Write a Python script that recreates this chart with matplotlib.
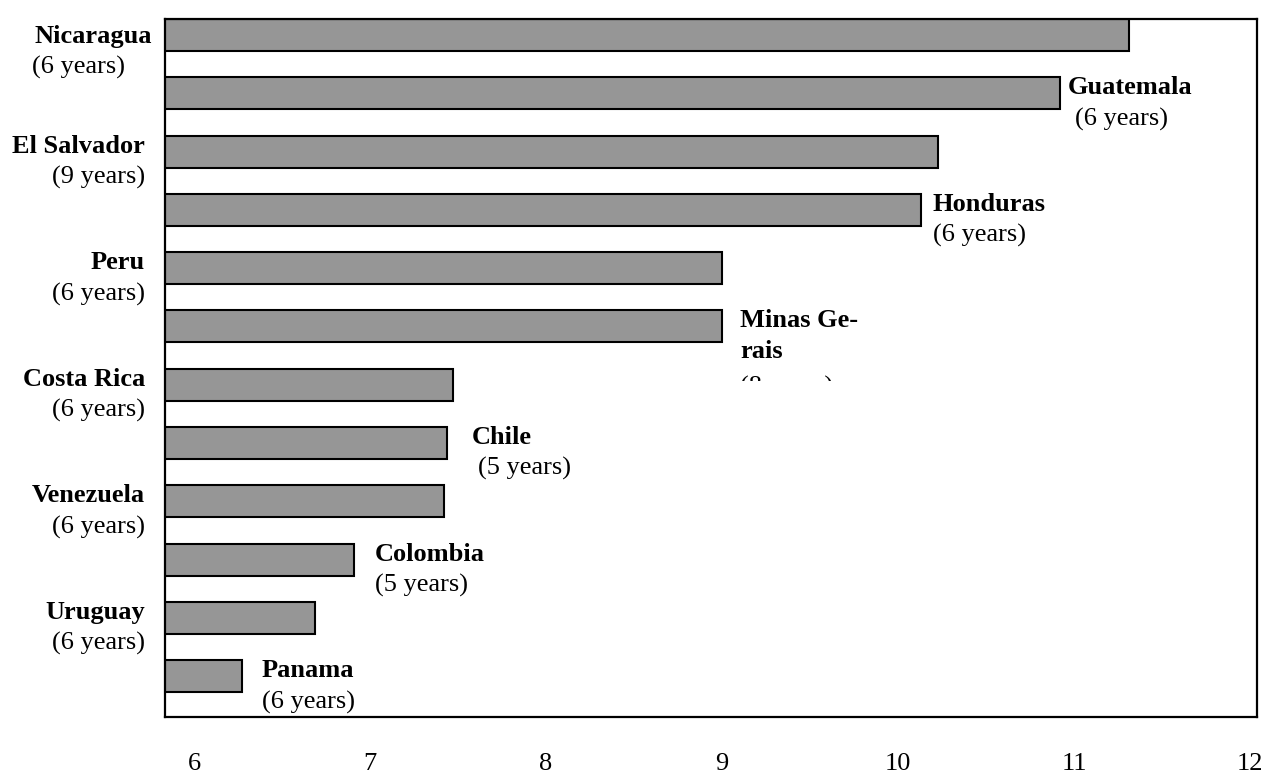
import matplotlib
matplotlib.use("Agg")
import matplotlib.pyplot as plt
from matplotlib.transforms import Bbox, TransformedBbox

countries = ["Nicaragua", "Guatemala", "El Salvador", "Honduras", "Peru",
             "Minas Gerais", "Costa Rica", "Chile", "Venezuela", "Colombia",
             "Uruguay", "Panama"]
values = [11.31, 10.92, 10.23, 10.13, 9.00, 9.00, 7.47, 7.44, 7.42, 6.91, 6.69, 6.27]
years = [6, 6, 9, 6, 6, 8, 6, 5, 6, 5, 6, 6]
x_ticks = [6, 7, 8, 9, 10, 11, 12]

# how each name is broken into lines in the picture
display_names = {"Minas Gerais": "Minas Ge-\nrais"}

plt.rcParams["font.family"] = ["Liberation Serif", "DejaVu Serif"]

fig = plt.figure(figsize=(12.7, 7.78), dpi=100)
ax = fig.add_axes([165 / 1270, 61 / 778, 1092 / 1270, 698 / 778])

ypos = list(range(len(countries)))
ax.barh(ypos, values, height=0.55, color="#969696", edgecolor="black", linewidth=1.5)

ax.set_xlim(5.835, 12.04)
ax.set_ylim(11.70, -0.275)
ax.set_yticks([])
ax.set_xticks(x_ticks)
ax.set_xticklabels([str(t) for t in x_ticks], fontsize=19)
ax.tick_params(axis="x", length=0, pad=26)
for sp in ax.spines.values():
    sp.set_linewidth(1.6)

px = 0.72  # points per pixel at 100 dpi
line_gap = 31

for i, (name, val, yr) in enumerate(zip(countries, values, years)):
    lines = display_names.get(name, name).split("\n")
    texts = [(ln, "bold") for ln in lines] + [(f"({yr} years)", "normal")]
    if i % 2 == 0:
        # labels to the left of the axes
        base = 8 if i == 0 else 1
        for k, (txt, weight) in enumerate(texts):
            dx = -13 if (i == 0 and k == 0) else (-40 if i == 0 else -20)
            ax.annotate(txt, xy=(0, i), xycoords=("axes fraction", "data"),
                        xytext=(dx * px, -(base + line_gap * k) * px),
                        textcoords="offset points", ha="right", va="baseline",
                        fontsize=19, fontweight=weight, annotation_clip=False)
    else:
        # labels just after the end of the bar
        gaps = {1: (8, 15), 3: (12, 12), 5: (18, 18), 7: (24, 31), 9: (21, 21), 11: (20, 20)}
        g_name, g_years = gaps[i]
        for k, (txt, weight) in enumerate(texts):
            dx = g_years if weight == "normal" else g_name
            dy = 1 + line_gap * k
            if name == "Minas Gerais" and weight == "normal":
                dy += 4
            t = ax.annotate(txt, xy=(val, i), xycoords="data",
                            xytext=(dx * px, -dy * px),
                            textcoords="offset points", ha="left", va="baseline",
                            fontsize=19, fontweight=weight, annotation_clip=False)
            if name == "Minas Gerais" and weight == "normal":
                # this note is cut off in the source chart
                t.set_clip_box(TransformedBbox(Bbox([[-1, 0.482], [2, 2]]), ax.transAxes))
                t.set_clip_on(True)

fig.savefig("out.png", dpi=100)
